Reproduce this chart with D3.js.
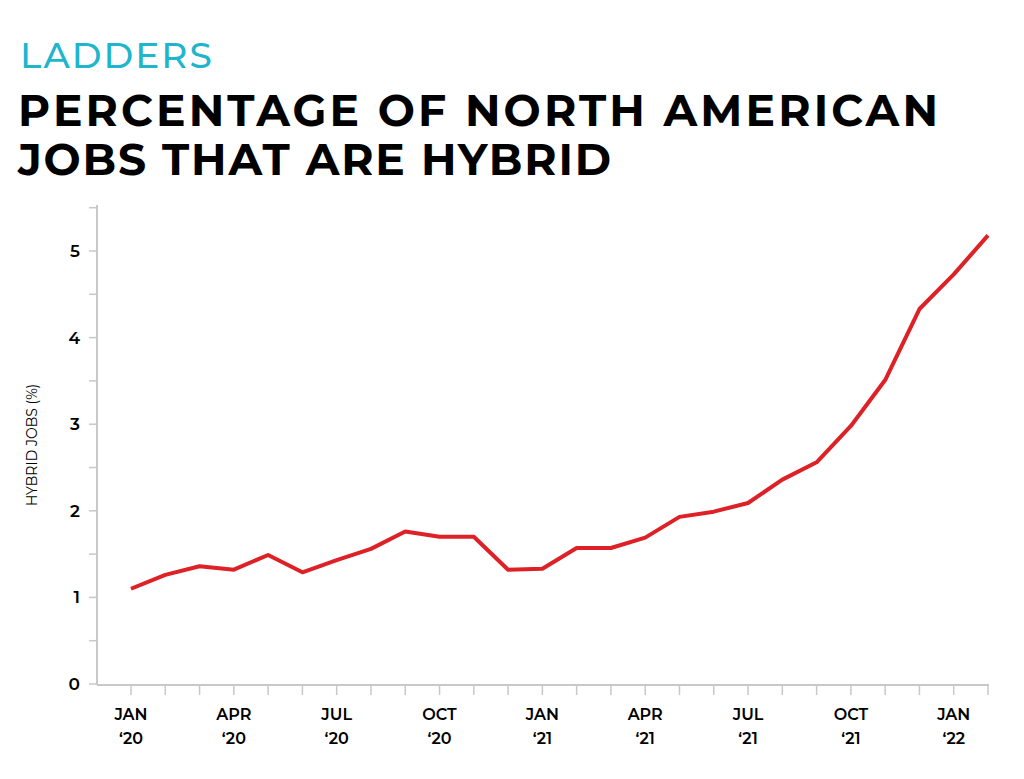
<!DOCTYPE html>
<html lang="en">
<head>
<meta charset="utf-8">
<title>Hybrid jobs</title>
<style>
  body { margin: 0; background: #fff; }
  text { font-family: "Montserrat", "DejaVu Sans", sans-serif; }
</style>
</head>
<body>
<svg id="chart" width="1024" height="779"></svg>
<script src="https://d3js.org/d3.v7.min.js"></script>
<script>
// monthly values, Jan 2020 .. Feb 2022
const months = d3.range(26)
const hybrid = [1.10, 1.26, 1.36, 1.32, 1.49, 1.29, 1.43, 1.56, 1.76, 1.70, 1.70, 1.32, 1.33,
                1.57, 1.57, 1.69, 1.93, 1.99, 2.09, 2.36, 2.56, 2.98, 3.51, 4.33, 4.73, 5.18]
const tickLabels = [["JAN", "‘20"], ["APR", "‘20"], ["JUL", "‘20"], ["OCT", "‘20"],
                    ["JAN", "‘21"], ["APR", "‘21"], ["JUL", "‘21"], ["OCT", "‘21"], ["JAN", "‘22"]]
const yTicks = [0, 1, 2, 3, 4, 5]

const svg = d3.select("#chart")

svg.append("text").attr("x", 20).attr("y", 68).attr("fill", "#1fb5cc")
  .style("font-size", "36px").style("letter-spacing", "2px").style("font-weight", 500).text("LADDERS")
svg.append("text").attr("x", 18).attr("y", 126).style("font-size", "44px").style("font-weight", "bold")
  .attr("textLength", 920).attr("lengthAdjust", "spacing").text("PERCENTAGE OF NORTH AMERICAN")
svg.append("text").attr("x", 18).attr("y", 175).style("font-size", "44px").style("font-weight", "bold")
  .attr("textLength", 593).attr("lengthAdjust", "spacing").text("JOBS THAT ARE HYBRID")

const x = d3.scaleLinear().domain([0, 25]).range([131, 988])
const y = d3.scaleLinear().domain([0, 5]).range([684, 251])

const grey = "#c8c8c8"
// y axis
svg.append("line").attr("x1", 97).attr("x2", 97).attr("y1", 205).attr("y2", 685)
  .attr("stroke", grey).attr("stroke-width", 2)
d3.range(0, 5.51, 0.5).forEach(v => {
  svg.append("line").attr("x1", 89).attr("x2", 97).attr("y1", y(v)).attr("y2", y(v))
    .attr("stroke", grey).attr("stroke-width", 1.5)
})
yTicks.forEach(v => {
  svg.append("text").attr("x", 80).attr("y", y(v) + 6).attr("text-anchor", "end")
    .style("font-size", "17px").style("font-weight", 600).text(v)
})
svg.append("text").attr("transform", "translate(37,445) rotate(-90)").attr("text-anchor", "middle")
  .style("font-size", "14px").text("HYBRID JOBS (%)")

// x axis
svg.append("line").attr("x1", 97).attr("x2", 989).attr("y1", 685).attr("y2", 685)
  .attr("stroke", grey).attr("stroke-width", 2)
months.forEach(m => {
  svg.append("line").attr("x1", x(m)).attr("x2", x(m)).attr("y1", 685).attr("y2", 695)
    .attr("stroke", grey).attr("stroke-width", 1.5)
})
tickLabels.forEach((t, i) => {
  const g = svg.append("text").attr("text-anchor", "middle").style("font-size", "16px").style("font-weight", 600)
  g.append("tspan").attr("x", x(i * 3)).attr("y", 720).text(t[0])
  g.append("tspan").attr("x", x(i * 3)).attr("y", 744).text(t[1])
})

svg.append("path").datum(hybrid)
  .attr("d", d3.line().x((d, i) => x(months[i])).y(d => y(d)))
  .attr("fill", "none").attr("stroke", "#dd2127").attr("stroke-width", 4).attr("stroke-linejoin", "round")
</script>
</body>
</html>
